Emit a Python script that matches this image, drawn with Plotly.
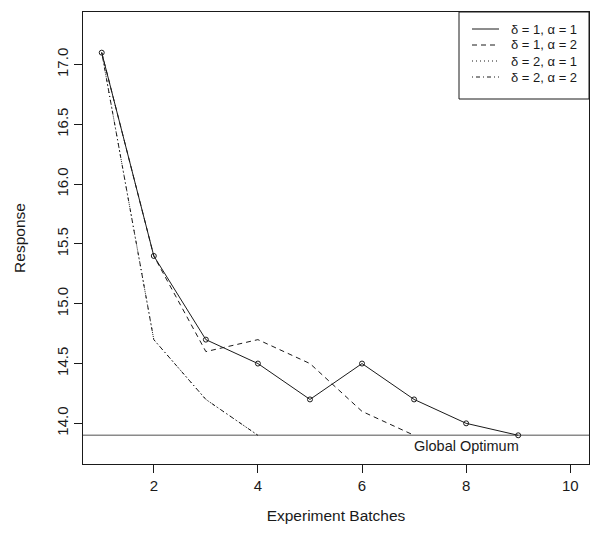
import plotly.graph_objects as go

# ---- data ----
batches_11 = [1, 2, 3, 4, 5, 6, 7, 8, 9]
resp_11 = [17.1, 15.4, 14.7, 14.5, 14.2, 14.5, 14.2, 14.0, 13.9]

batches_12 = [1, 2, 3, 4, 5, 6, 7]
resp_12 = [17.1, 15.4, 14.6, 14.7, 14.5, 14.1, 13.9]

batches_21 = [1, 2, 3, 4]
resp_21 = [17.1, 14.7, 14.2, 13.9]

batches_22 = [1, 2, 3, 4]
resp_22 = [17.1, 14.7, 14.2, 13.9]

global_optimum = 13.9
x_ticks = [2, 4, 6, 8, 10]
y_ticks = [14.0, 14.5, 15.0, 15.5, 16.0, 16.5, 17.0]
y_tick_labels = ["14.0", "14.5", "15.0", "15.5", "16.0", "16.5", "17.0"]

series_names = ["δ = 1, α = 1", "δ = 1, α = 2", "δ = 2, α = 1", "δ = 2, α = 2"]
series_dash = ["solid", "5px,4px", "1px,3px", "1px,3px,4px,3px"]

FONT = "Liberation Sans, Arial, sans-serif"
INK = "#1a1a1a"

fig = go.Figure()

series = [(batches_11, resp_11), (batches_12, resp_12),
          (batches_21, resp_21), (batches_22, resp_22)]
for (xs, ys), name, dash in zip(series, series_names, series_dash):
    fig.add_trace(go.Scatter(
        x=xs, y=ys, mode="lines", name=name, showlegend=False,
        line=dict(color=INK, width=1, dash=dash),
    ))

# open-circle markers on the first series
fig.add_trace(go.Scatter(
    x=batches_11, y=resp_11, mode="markers", showlegend=False,
    marker=dict(symbol="circle-open", size=5, color=INK, line=dict(width=1)),
))

# global optimum reference line
fig.add_shape(type="line", xref="paper", x0=0, x1=1, yref="y",
              y0=global_optimum, y1=global_optimum,
              line=dict(color="#8a8a8a", width=1.5), layer="below")
fig.add_annotation(x=8, y=global_optimum, xref="x", yref="y",
                   text="Global Optimum", showarrow=False,
                   yanchor="top", yshift=-1,
                   font=dict(family=FONT, size=14.5, color=INK))

# legend box (top-right corner of the plot area)
L, T, W, H = 83, 12, 506, 452  # plot area in pixels


def px_x(p):
    return (p - L) / W


def px_y(p):
    return 1 - (p - T) / H


fig.add_shape(type="rect", xref="paper", yref="paper",
              x0=px_x(459), x1=1, y0=px_y(99), y1=1,
              line=dict(color=INK, width=1), fillcolor="white")
row_y = [29, 45, 61, 77]
for ry, name, dash in zip(row_y, series_names, series_dash):
    fig.add_shape(type="line", xref="paper", yref="paper",
                  x0=px_x(472), x1=px_x(499), y0=px_y(ry), y1=px_y(ry),
                  line=dict(color=INK, width=1, dash=dash))
    fig.add_annotation(xref="paper", yref="paper", x=px_x(509), y=px_y(ry),
                       text=name, showarrow=False, xanchor="left",
                       yanchor="middle", height=15,
                       font=dict(family=FONT, size=13, color=INK))

fig.update_layout(
    width=597, height=534,
    margin=dict(l=83, r=8, t=12, b=70),
    paper_bgcolor="white", plot_bgcolor="white",
    font=dict(family=FONT, size=15, color=INK),
    showlegend=False,
    xaxis=dict(range=[0.64, 10.36], tickvals=x_ticks,
               showgrid=False, zeroline=False,
               showline=True, mirror=True, linecolor=INK, linewidth=1,
               ticks="outside", ticklen=8, tickcolor=INK,
               tickfont=dict(family=FONT, size=15, color=INK),
               title=dict(text="Experiment Batches", standoff=17,
                          font=dict(family=FONT, size=15.5, color=INK))),
    yaxis=dict(range=[13.66, 17.44], tickvals=y_ticks, ticktext=y_tick_labels,
               tickangle=-90,
               showgrid=False, zeroline=False,
               showline=True, mirror=True, linecolor=INK, linewidth=1,
               ticks="outside", ticklen=8, tickcolor=INK,
               tickfont=dict(family=FONT, size=15, color=INK),
               title=dict(text="Response", standoff=24,
                          font=dict(family=FONT, size=15.5, color=INK))),
)

fig.write_html("out.html")
